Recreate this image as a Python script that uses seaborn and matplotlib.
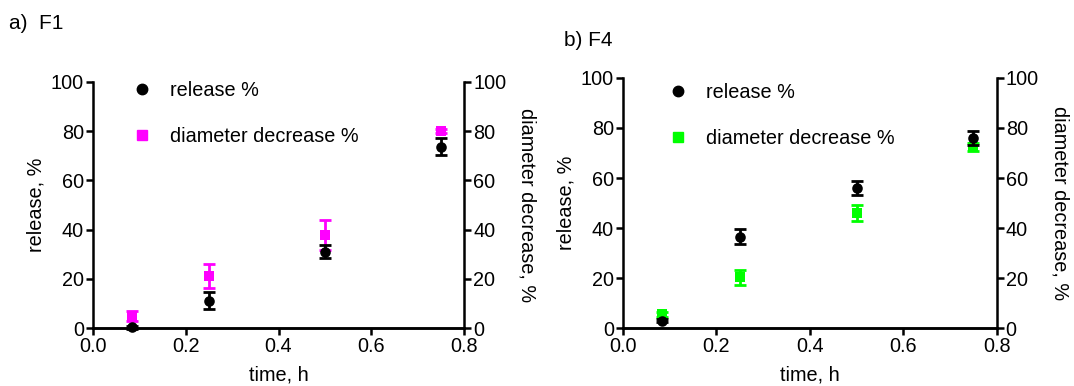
import numpy as np
import pandas as pd
import matplotlib
matplotlib.use("Agg")
import matplotlib.pyplot as plt
from matplotlib.lines import Line2D
import seaborn as sns

# sampling times, h
time = [0.083, 0.25, 0.5, 0.75]

# F1
f1_release = [0.3, 11.1, 31.0, 73.6]
f1_release_sd = [0.5, 3.5, 2.6, 3.5]
f1_diam = [5.0, 21.1, 37.8, 80.0]
f1_diam_sd = [2.0, 5.0, 6.0, 0.8]

# F4
f4_release = [2.9, 36.5, 56.1, 75.9]
f4_release_sd = [0.6, 3.0, 2.9, 2.7]
f4_diam = [5.5, 20.3, 45.9, 72.5]
f4_diam_sd = [1.0, 3.0, 3.2, 1.5]

x_ticks = [0.0, 0.2, 0.4, 0.6, 0.8]
y_ticks = [0, 20, 40, 60, 80, 100]

sns.set_theme(style="ticks")
plt.rcParams['font.family'] = ['Liberation Sans', 'DejaVu Sans']
plt.rcParams['font.size'] = 14
plt.rcParams['text.color'] = 'black'
plt.rcParams['axes.labelcolor'] = 'black'
plt.rcParams['xtick.color'] = 'black'
plt.rcParams['ytick.color'] = 'black'

FS = 14.3


def draw_panel(fig, rect, release, release_sd, diam, diam_sd, dcolor, title, title_xy, leg_anchor):
    ax = fig.add_axes(rect)
    ax2 = ax.twinx()

    df_r = pd.DataFrame({"time": time, "value": release})
    df_d = pd.DataFrame({"time": time, "value": diam})

    # diameter decrease on right axis
    ax2.errorbar(time, diam, yerr=diam_sd, fmt="none", ecolor=dcolor,
                 elinewidth=2, capsize=4.5, capthick=2, clip_on=False, zorder=2)
    sns.scatterplot(data=df_d, x="time", y="value", ax=ax2, marker="s", s=50,
                    color=dcolor, edgecolor=dcolor, linewidth=0, clip_on=False, zorder=3)

    # release on left axis (draw above the twin)
    ax.set_zorder(ax2.get_zorder() + 1)
    ax.patch.set_visible(False)
    ax.errorbar(time, release, yerr=release_sd, fmt="none", ecolor="black",
                elinewidth=2, capsize=4.5, capthick=2, clip_on=False, zorder=2)
    sns.scatterplot(data=df_r, x="time", y="value", ax=ax, marker="o", s=58,
                    color="black", edgecolor="black", linewidth=0, clip_on=False, zorder=3)

    for a in (ax, ax2):
        a.set_xlim(0, 0.8)
        a.set_ylim(0, 100)
        a.set_yticks(y_ticks)
        a.spines["top"].set_visible(False)
        for s in a.spines.values():
            s.set_linewidth(1.8)
            s.set_color("black")
        a.tick_params(width=1.8, length=5, color="black", labelcolor="black",
                      labelsize=FS, pad=1.5)
    ax.set_xticks(x_ticks)
    ax.set_xticklabels([f"{t:.1f}" for t in x_ticks])
    ax2.spines["left"].set_visible(False)
    ax.spines["right"].set_visible(False)

    ax.set_xlabel("time, h", fontsize=FS, labelpad=7)
    ax.set_ylabel("release, %", fontsize=FS, labelpad=4)
    ax2.set_ylabel("diameter decrease, %", fontsize=FS, rotation=270, labelpad=22)

    handles = [
        Line2D([], [], marker="o", linestyle="none", color="black", markersize=7.5),
        Line2D([], [], marker="s", linestyle="none", color=dcolor, markersize=7),
    ]
    ax.legend(handles, ["release %", "diameter decrease %"], loc="upper left",
              bbox_to_anchor=leg_anchor, frameon=False, fontsize=FS,
              handletextpad=0.9, labelspacing=1.35, handlelength=1.0, borderaxespad=0)

    fig.text(title_xy[0], title_xy[1], title, fontsize=15, ha="left", va="center")
    return ax


fig = plt.figure(figsize=(10.74, 3.86), dpi=100)

draw_panel(fig, [0.0866, 0.150, 0.3455, 0.638], f1_release, f1_release_sd,
           f1_diam, f1_diam_sd, "#FF00FF", "a)  F1", (0.008, 0.94), (0.085, 1.035))
draw_panel(fig, [0.580, 0.150, 0.348, 0.648], f4_release, f4_release_sd,
           f4_diam, f4_diam_sd, "#00FF00", "b) F4", (0.525, 0.895), (0.10, 1.01))

fig.savefig("out.png", dpi=100)
